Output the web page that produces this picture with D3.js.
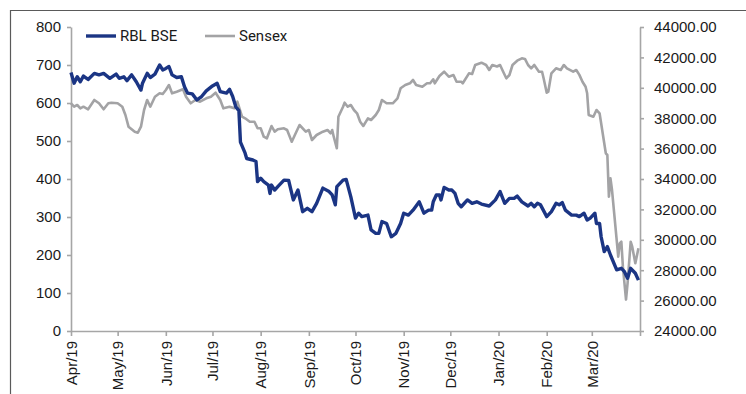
<!DOCTYPE html>
<html>
<head>
<meta charset="utf-8">
<script src="https://cdn.jsdelivr.net/npm/d3@7"></script>
<style>
  body { margin: 0; background: #fff; }
  svg { display: block; font-family: Roboto, "Liberation Sans", sans-serif; }
</style>
</head>
<body>
<svg id="chart" width="746" height="394"></svg>
<script>
// RBL Bank share price (left axis) vs Sensex (right axis), Apr 2019 - Mar 2020
const rblDates = ["2019-04-01","2019-04-03","2019-04-05","2019-04-07","2019-04-09","2019-04-12","2019-04-16","2019-04-19","2019-04-22","2019-04-26","2019-04-30",
  "2019-05-02","2019-05-05","2019-05-07","2019-05-10","2019-05-13","2019-05-16","2019-05-17","2019-05-20","2019-05-22","2019-05-25","2019-05-28","2019-05-30",
  "2019-06-01","2019-06-03","2019-06-05","2019-06-08","2019-06-11","2019-06-13","2019-06-15","2019-06-18","2019-06-21","2019-06-24","2019-06-27",
  "2019-07-01","2019-07-04","2019-07-06","2019-07-10","2019-07-12","2019-07-14","2019-07-16","2019-07-18","2019-07-19","2019-07-22","2019-07-23","2019-07-27","2019-07-29","2019-07-30",
  "2019-08-01","2019-08-03","2019-08-06","2019-08-07","2019-08-08","2019-08-10","2019-08-12","2019-08-16","2019-08-19","2019-08-22","2019-08-25","2019-08-28","2019-08-31",
  "2019-09-03","2019-09-06","2019-09-10","2019-09-14","2019-09-16","2019-09-18","2019-09-19","2019-09-23","2019-09-25","2019-09-28",
  "2019-10-01","2019-10-03","2019-10-05","2019-10-09","2019-10-11","2019-10-14","2019-10-16","2019-10-18","2019-10-21","2019-10-24","2019-10-27","2019-10-30",
  "2019-11-01","2019-11-04","2019-11-07","2019-11-11","2019-11-14","2019-11-17","2019-11-19","2019-11-20","2019-11-22","2019-11-24","2019-11-25","2019-11-27","2019-11-30",
  "2019-12-02","2019-12-04","2019-12-06","2019-12-08","2019-12-12","2019-12-15","2019-12-18","2019-12-21","2019-12-26","2019-12-30",
  "2020-01-02","2020-01-05","2020-01-08","2020-01-11","2020-01-13","2020-01-16","2020-01-20","2020-01-22","2020-01-24","2020-01-26","2020-01-28",
  "2020-02-01","2020-02-04","2020-02-07","2020-02-09","2020-02-11","2020-02-13","2020-02-17","2020-02-20","2020-02-22","2020-02-25","2020-02-27","2020-02-29",
  "2020-03-03","2020-03-04","2020-03-06","2020-03-07","2020-03-09","2020-03-11","2020-03-13","2020-03-17","2020-03-20","2020-03-22","2020-03-24","2020-03-26","2020-03-29","2020-03-31"];
const rblValues = [680,652,669,656,671,662,678,674,678,665,676,
  665,669,659,674,656,634,652,678,667,676,700,687,
  691,696,674,667,669,643,626,624,608,617,632,
  645,652,630,626,636,617,590,580,497,468,454,450,446,393,
  402,393,384,362,384,371,380,397,396,345,371,314,323,
  314,336,376,367,358,332,380,397,399,353,
  297,310,301,305,266,257,257,288,283,248,257,283,
  310,305,318,340,310,318,318,340,358,358,345,378,371,
  371,362,336,327,345,336,340,334,329,345,
  367,336,349,349,355,340,329,336,327,336,332,
  301,314,336,332,338,318,305,305,301,310,292,297,
  310,283,283,248,209,222,200,161,165,156,139,165,152,134];

const sensexDates = ["2019-04-01","2019-04-03","2019-04-05","2019-04-07","2019-04-09","2019-04-12","2019-04-16","2019-04-19","2019-04-22","2019-04-25","2019-04-27",
  "2019-05-01","2019-05-04","2019-05-06","2019-05-08","2019-05-12","2019-05-14","2019-05-16","2019-05-18","2019-05-20","2019-05-22","2019-05-25","2019-05-28","2019-05-30",
  "2019-06-01","2019-06-03","2019-06-05","2019-06-08","2019-06-12","2019-06-14","2019-06-17","2019-06-20","2019-06-23","2019-06-27","2019-06-30",
  "2019-07-03","2019-07-06","2019-07-08","2019-07-12","2019-07-15","2019-07-17","2019-07-19","2019-07-20","2019-07-22","2019-07-25","2019-07-28","2019-07-30",
  "2019-08-01","2019-08-03","2019-08-05","2019-08-08","2019-08-10","2019-08-12","2019-08-16","2019-08-18","2019-08-21","2019-08-23","2019-08-26","2019-08-30",
  "2019-09-01","2019-09-03","2019-09-06","2019-09-10","2019-09-13","2019-09-15","2019-09-16","2019-09-17","2019-09-19","2019-09-20","2019-09-23","2019-09-24","2019-09-26","2019-09-28","2019-09-30",
  "2019-10-02","2019-10-04","2019-10-06","2019-10-09","2019-10-11","2019-10-14","2019-10-16","2019-10-18","2019-10-21","2019-10-25","2019-10-28","2019-10-30",
  "2019-11-02","2019-11-05","2019-11-07","2019-11-09","2019-11-13","2019-11-16","2019-11-18","2019-11-20","2019-11-21","2019-11-24","2019-11-27","2019-11-30",
  "2019-12-03","2019-12-05","2019-12-08","2019-12-09","2019-12-13","2019-12-15","2019-12-17","2019-12-21","2019-12-24","2019-12-26","2019-12-28","2019-12-31",
  "2020-01-02","2020-01-04","2020-01-06","2020-01-08","2020-01-10","2020-01-13","2020-01-16","2020-01-18","2020-01-20","2020-01-22","2020-01-24","2020-01-27","2020-01-29","2020-01-30",
  "2020-02-01","2020-02-02","2020-02-04","2020-02-07","2020-02-10","2020-02-12","2020-02-14","2020-02-18","2020-02-20","2020-02-22","2020-02-24","2020-02-26","2020-02-27","2020-02-28",
  "2020-03-02","2020-03-04","2020-03-06","2020-03-08","2020-03-10","2020-03-11","2020-03-12","2020-03-13","2020-03-14","2020-03-16","2020-03-18","2020-03-19","2020-03-20","2020-03-21","2020-03-23","2020-03-24","2020-03-26","2020-03-27","2020-03-29","2020-03-31"];
const sensexValues = [38980,38757,38868,38650,38757,38586,39198,38980,38586,38980,39020,
  38980,38757,38211,37441,37112,37046,37441,38540,39198,38757,39415,39638,39592,
  39856,40184,39638,39744,39902,39415,38980,39198,39087,39310,39415,
  39678,39198,38650,38757,38650,39087,38428,38099,37993,37770,37770,37336,
  37336,36783,36678,37487,37112,37270,37336,37224,36454,36895,37553,37112,
  37224,36566,36895,37112,37224,37007,37224,36783,36020,38099,38757,39020,38757,38868,38540,
  38323,37770,37487,37993,37882,38211,38540,39198,38980,38980,39310,39968,
  40184,40296,40513,40184,40072,40296,40296,40560,40296,40777,41059,40733,
  40842,40401,40401,40296,40953,40908,41500,41652,41500,41171,41500,41400,
  41500,41059,40625,40842,41500,41783,41941,41900,41500,41283,41500,41059,41059,40625,
  39678,39744,40953,41283,41171,41500,41283,41059,41171,40850,40401,40072,39638,38211,
  38099,38540,38323,37007,35691,35579,32836,34046,33276,31085,28888,29770,29875,28230,26072,27138,29875,29546,28454,29441];

const leftTicks = [0,100,200,300,400,500,600,700,800];
const rightTicks = [24000,26000,28000,30000,32000,34000,36000,38000,40000,42000,44000];
const monthTicks = ["2019-04-01","2019-05-01","2019-06-01","2019-07-01","2019-08-01","2019-09-01","2019-10-01","2019-11-01","2019-12-01","2020-01-01","2020-02-01","2020-03-01"];

const parse = d3.timeParse("%Y-%m-%d");
const rbl = rblDates.map((d, i) => ({date: parse(d), value: rblValues[i]}));
const sensex = sensexDates.map((d, i) => ({date: parse(d), value: sensexValues[i]}));

let dimensions = {
    width: 746, height: 394,
    margin: {top: 27, bottom: 63, left: 71, right: 106}
};
const plotRight = dimensions.width - dimensions.margin.right;
const plotBottom = dimensions.height - dimensions.margin.bottom;

const axisColor = "#a6a6a6";
const blue = "#1b3584";
const grey = "#a3a3a5";

var svg = d3.select("#chart");

// outer frame (only top and left edges visible in the crop)
svg.append("path")
    .attr("d", "M10.5,394 V10.5 H746")
    .attr("fill", "none")
    .attr("stroke", "#5a5a5a")
    .attr("stroke-width", 1.2);

var x = d3.scaleTime()
    .domain([parse("2019-04-01"), parse("2020-04-01")])
    .range([dimensions.margin.left, plotRight]);

var yLeft = d3.scaleLinear()
    .domain([0, 800])
    .range([plotBottom, dimensions.margin.top]);

var yRight = d3.scaleLinear()
    .domain([24000, 44000])
    .range([plotBottom, dimensions.margin.top]);

function styleAxis(g) {
    g.selectAll("path, line").attr("stroke", axisColor).attr("stroke-width", 1.6);
    g.selectAll("text").attr("fill", "#1a1a1a").attr("font-size", "15px");
}

// x axis
var gx = svg.append("g")
    .attr("transform", "translate(0," + plotBottom + ")")
    .call(d3.axisBottom(x)
        .tickValues(monthTicks.map(parse).concat([parse("2020-04-01")]))
        .tickSize(5)
        .tickSizeOuter(0)
        .tickFormat(d => d.getMonth() === 3 && d.getFullYear() === 2020 ? "" : d3.timeFormat("%b/%y")(d)));
gx.call(styleAxis);
gx.selectAll("text")
    .attr("text-anchor", "end")
    .attr("transform", "rotate(-90)")
    .attr("x", -10)
    .attr("y", 0)
    .attr("dy", "0.35em");

// left axis
var gl = svg.append("g")
    .attr("transform", "translate(" + dimensions.margin.left + ",0)")
    .call(d3.axisLeft(yLeft).tickValues(leftTicks).tickSize(4).tickSizeOuter(0).tickPadding(6));
gl.call(styleAxis);

// right axis
var gr = svg.append("g")
    .attr("transform", "translate(" + plotRight + ",0)")
    .call(d3.axisRight(yRight).tickValues(rightTicks).tickSize(4).tickSizeOuter(0).tickPadding(10)
        .tickFormat(d3.format(".2f")));
gr.call(styleAxis);

// lines
svg.append("path")
    .datum(sensex)
    .attr("fill", "none")
    .attr("stroke", grey)
    .attr("stroke-width", 2.6)
    .attr("stroke-linejoin", "round")
    .attr("d", d3.line().x(d => x(d.date)).y(d => yRight(d.value)));

svg.append("path")
    .datum(rbl)
    .attr("fill", "none")
    .attr("stroke", blue)
    .attr("stroke-width", 3.4)
    .attr("stroke-linejoin", "round")
    .attr("d", d3.line().x(d => x(d.date)).y(d => yLeft(d.value)));

// legend
const legendItems = [
    {name: "RBL BSE", color: blue, width: 3.4, x: 86},
    {name: "Sensex", color: grey, width: 2.6, x: 205}
];
var legend = svg.append("g");
legendItems.forEach(item => {
    legend.append("line")
        .attr("x1", item.x).attr("x2", item.x + 30)
        .attr("y1", 36).attr("y2", 36)
        .attr("stroke", item.color)
        .attr("stroke-width", item.width);
    legend.append("text")
        .attr("x", item.x + 34)
        .attr("y", 36)
        .attr("dy", "0.35em")
        .attr("font-size", "15px")
        .attr("fill", "#1a1a1a")
        .text(item.name);
});
</script>
</body>
</html>
